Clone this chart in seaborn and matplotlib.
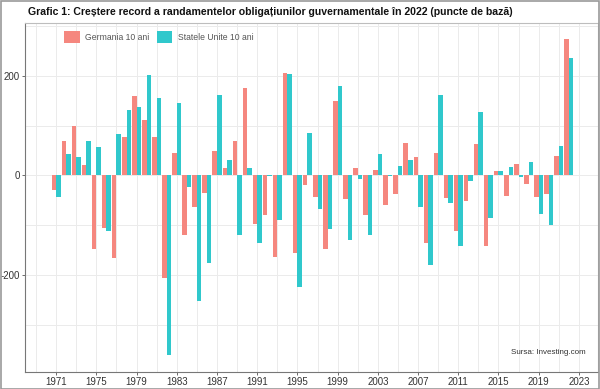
import matplotlib
matplotlib.use("Agg")
import matplotlib.pyplot as plt
import matplotlib.patches as mpatches
import seaborn as sns
import pandas as pd
import numpy as np

years = list(range(1971, 2023))
germania = [-29, 70, 100, 20, -148, -106, -166, 77, 159, 112, 78, -206,
            46, -120, -64, -35, 49, 15, 70, 175, -97, -80, -163, 205,
            -156, -20, -43, -147, 149, -47, 15, -79, 10, -60, -37, 66,
            38, -136, 45, -45, -112, -52, 63, -141, 9, -42, 22, -18,
            -44, -38, 39, 274]
sua = [-44, 43, 38, 70, 57, -112, 83, 132, 138, 202, 155, -361,
       146, -23, -253, -175, 162, 31, -119, 15, -136, -1, -89, 204,
       -224, 85, -67, -107, 179, -130, -7, -119, 43, -2, 18, 31,
       -64, -179, 162, -55, -142, -12, 127, -86, 9, 17, -3, 27,
       -77, -100, 59, 236]
series_names = ["Germania 10 ani", "Statele Unite 10 ani"]
colors = ["#F5877F", "#30C8CC"]
x_ticks = list(range(1971, 2024, 4))
y_ticks = [-200, 0, 200]
title = "Grafic 1: Creștere record a randamentelor obligațiunilor guvernamentale în 2022 (puncte de bază)"
caption = "Sursa: Investing.com"

df = pd.DataFrame({
    "an": years * 2,
    "valoare": germania + sua,
    "serie": [series_names[0]] * len(years) + [series_names[1]] * len(years),
})

sns.set_theme(style="white")
plt.rcParams["font.family"] = ["Liberation Sans", "DejaVu Sans"]
plt.rcParams["axes.unicode_minus"] = False

fig = plt.figure(figsize=(6, 3.89), dpi=100)
ax = fig.add_axes([25 / 600, 1 - 371.7 / 389, 573 / 600, 348.7 / 389])

sns.barplot(data=df, x="an", y="valoare", hue="serie", palette=colors,
            native_scale=True, width=0.9, gap=0, errorbar=None,
            hue_order=series_names, ax=ax, linewidth=0, saturation=1)

ax.set_xlim(1967.9, 2024.9)
ax.set_ylim(-394, 306)
ax.set_xticks(x_ticks)
ax.set_xticks([t + 2 for t in x_ticks[:-1]] + [1969], minor=True)
ax.set_yticks(y_ticks)
ax.set_yticks([-300, -100, 100, 300], minor=True)
ax.grid(True, which="both", color="#ebebeb", linewidth=0.7)
ax.set_axisbelow(True)
ax.set_xlabel("")
ax.set_ylabel("")
ax.tick_params(axis="both", which="major", labelsize=7, colors="#555555",
               length=2.2, width=0.6, direction="out", pad=1.5,
               bottom=True, left=True)
ax.tick_params(axis="both", which="minor", length=0)
for lab in ax.get_xticklabels() + ax.get_yticklabels():
    lab.set_color("#333333")
for s in ["top", "right"]:
    ax.spines[s].set_color("#bdbdbd")
    ax.spines[s].set_linewidth(0.8)
for s in ["left", "bottom"]:
    ax.spines[s].set_color("#777777")
    ax.spines[s].set_linewidth(0.8)

if ax.get_legend() is not None:
    ax.get_legend().remove()
handles = [mpatches.Patch(facecolor=c, edgecolor="none") for c in colors]
ax.legend(handles, series_names, ncol=2, loc="upper left",
          bbox_to_anchor=(0.058, 0.995), frameon=False, fontsize=6.2,
          handlelength=1.8, handleheight=1.8, columnspacing=0.9,
          handletextpad=0.6, labelcolor="#555555", borderaxespad=0.3)

ax.text(0.979, 0.054, caption, transform=ax.transAxes, ha="right",
        va="center", fontsize=5.8, color="#333333")

fig.text(28 / 600, 1 - 12 / 389, title, ha="left", va="center",
         fontsize=7.6, fontweight="bold", color="#111111")

fig.patches.append(mpatches.Rectangle((0.001, 0.001), 0.998, 0.997,
                                      transform=fig.transFigure, fill=False,
                                      edgecolor="#999999", linewidth=1.2))

fig.savefig("out.png", dpi=100, facecolor="white")
